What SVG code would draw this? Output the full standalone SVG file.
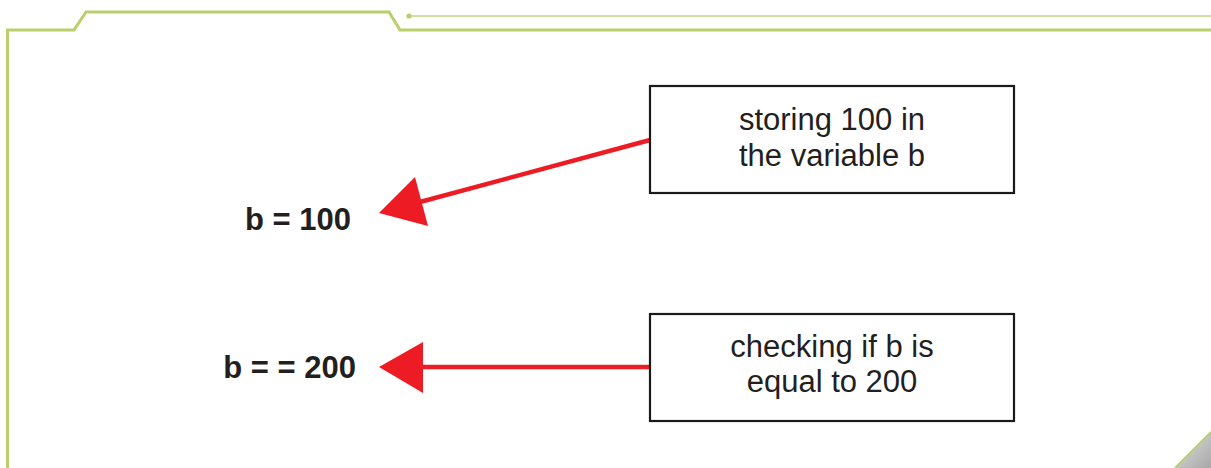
<svg xmlns="http://www.w3.org/2000/svg" width="1211" height="468" viewBox="0 0 1211 468">
  <defs>
    <style>
      .frame { fill: none; stroke: #B8CF6B; stroke-width: 3; stroke-linejoin: miter; }
      .thin { fill: none; stroke: #C2D67E; stroke-width: 1.6; }
      .box { fill: #FFFFFF; stroke: #1A1A1A; stroke-width: 2.2; }
      .label { font-family: "Liberation Sans", Arial, sans-serif; font-size: 31px; fill: #231F20; text-anchor: middle; }
      .code { font-family: "Liberation Sans", Arial, sans-serif; font-size: 31px; font-weight: bold; fill: #231F20; text-anchor: end; }
      .wire { stroke: #ED1C24; stroke-width: 4.5; fill: none; }
      .head { fill: #ED1C24; }
    </style>
    <linearGradient id="curl" x1="0" y1="0" x2="1" y2="1">
      <stop offset="0" stop-color="#E2E2E2"/>
      <stop offset="0.5" stop-color="#C4C4C4"/>
      <stop offset="1" stop-color="#A8A8A8"/>
    </linearGradient>
  </defs>

  <rect width="1211" height="468" fill="#FFFFFF"/>

  <!-- page frame -->
  <g id="frame">
    <polyline class="frame" points="7.5,468 7.5,30 74,30 86,12 389,12 400,30 1211,30"/>
    <line class="thin" x1="409" y1="16" x2="1211" y2="16"/>
    <circle cx="409" cy="16" r="2.6" fill="#B8CF6B"/>
    <polygon points="1211,432 1175,468 1211,468" fill="url(#curl)"/>
    <line x1="1211" y1="432" x2="1175" y2="468" stroke="#B8CF6B" stroke-width="2"/>
  </g>

  <!-- connectors -->
  <g id="connectors">
    <line class="wire" x1="650" y1="140" x2="420" y2="202"/>
    <polygon class="head" points="379,213 415,177 428,226"/>
    <line class="wire" x1="650" y1="367" x2="420" y2="367"/>
    <polygon class="head" points="379,367 423,342 423,393"/>
  </g>

  <g id="note-store">
    <rect class="box" x="650" y="86" width="364" height="107"/>
    <text class="label" x="832" y="130">storing 100 in</text>
    <text class="label" x="832" y="166">the variable b</text>
  </g>

  <g id="note-check">
    <rect class="box" x="650" y="314" width="364" height="107"/>
    <text class="label" x="832" y="357">checking if b is</text>
    <text class="label" x="832" y="392">equal to 200</text>
  </g>

  <g id="code-assign">
    <text class="code" x="351" y="230">b = 100</text>
  </g>

  <g id="code-compare">
    <text class="code" x="356" y="378">b = = 200</text>
  </g>
</svg>
